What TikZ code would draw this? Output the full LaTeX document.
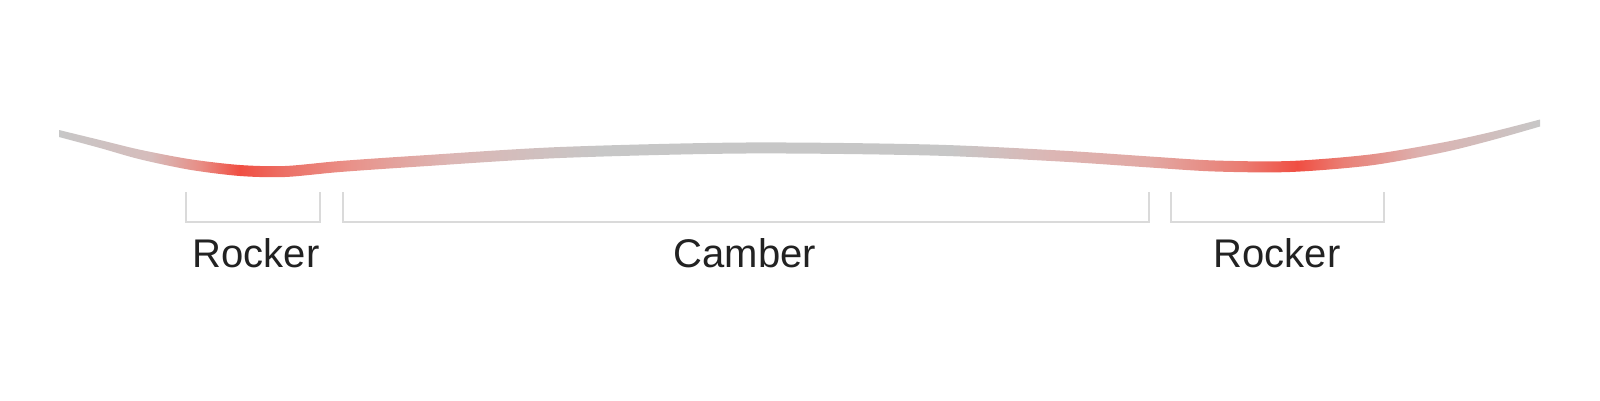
\documentclass[tikz,border=0pt]{standalone}
\usepackage{fontspec}
\setmainfont{Liberation Sans}
\usetikzlibrary{calc}

\definecolor{boardgray}{RGB}{199,199,199}
\definecolor{boardred}{RGB}{240,78,66}
\definecolor{pinka}{RGB}{214,188,187}
\definecolor{pinkb}{RGB}{232,140,132}
\definecolor{pinkc}{RGB}{236,112,102}
\definecolor{pinkd}{RGB}{233,145,137}
\definecolor{pinke}{RGB}{220,182,180}
\definecolor{pinkf}{RGB}{226,168,163}
\definecolor{pinkg}{RGB}{234,125,115}
\definecolor{pinkh}{RGB}{220,178,176}
\definecolor{bracketgray}{RGB}{218,218,218}
\definecolor{labelgray}{RGB}{34,34,34}

\pgfdeclarehorizontalshading{boardshade}{100bp}{%
  color(0bp)=(boardgray); color(25bp)=(boardgray);
  color(28.1bp)=(pinka); color(29.8bp)=(pinkb); color(31.1bp)=(boardred);
  color(32.6bp)=(pinkc); color(34.8bp)=(pinkd); color(38.2bp)=(pinke);
  color(43.3bp)=(boardgray); color(55.1bp)=(boardgray);
  color(58.5bp)=(pinke); color(61.8bp)=(pinkf); color(64.9bp)=(pinkg);
  color(66.8bp)=(boardred); color(68.3bp)=(pinkg); color(71bp)=(pinkh);
  color(75bp)=(boardgray); color(100bp)=(boardgray)}

\begin{document}
\begin{tikzpicture}[x=1pt, y=-1pt, inner sep=0pt, outer sep=0pt,
    every node/.style={font=\fontsize{40}{48}\selectfont, text=labelgray},
    bracket/.style={draw=bracketgray, line width=2pt}]
    \useasboundingbox (0,0) rectangle (1600,400);

    % board profile
    \shade[shading=boardshade]
    plot[smooth] coordinates {(59,130) (100,140) (140,149.7) (190,159.2)
      (240,165) (285,166) (340,161) (420,155.5) (560,147) (745,142.5)
      (930,144.5) (1060,150.5) (1150,156.5) (1215,160.5) (1290,161)
      (1370,154.5) (1440,143) (1490,132.3) (1540,119.5)}
    -- plot[smooth] coordinates {(1540,126.5) (1490,140.7) (1440,153)
      (1370,165.5) (1290,172) (1215,171.5) (1150,167.5) (1060,161.5)
      (930,155.5) (745,153.5) (560,158) (420,166.5) (340,172) (285,177)
      (240,176) (190,169.8) (140,159.3) (100,148) (59,137)}
    -- cycle;

    % brackets
    \coordinate (rocker_l_w) at (186,192);
    \coordinate (rocker_l_e) at (320,192);
    \coordinate (camber_w) at (343,192);
    \coordinate (camber_e) at (1149,192);
    \coordinate (rocker_r_w) at (1171,192);
    \coordinate (rocker_r_e) at (1384,192);

    \draw[bracket] (rocker_l_w) -- ++(0,30) -| (rocker_l_e);
    \draw[bracket] (camber_w) -- ++(0,30) -| (camber_e);
    \draw[bracket] (rocker_r_w) -- ++(0,30) -| (rocker_r_e);

    % labels
    \node[anchor=base] (rocker_l) at (256,267) {Rocker};
    \node[anchor=base] (camber) at (745,267) {Camber};
    \node[anchor=base] (rocker_r) at (1277,267) {Rocker};

\end{tikzpicture}
\end{document}
